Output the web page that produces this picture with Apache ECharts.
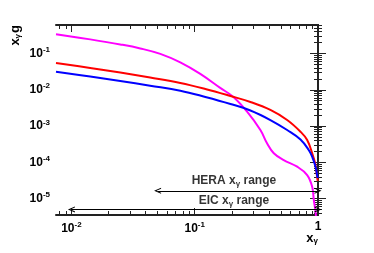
<!DOCTYPE html>
<html><head><meta charset="utf-8">
<script src="https://cdn.jsdelivr.net/npm/echarts@6/dist/echarts.min.js"></script>
<style>html,body{margin:0;padding:0;background:#fff}#c{width:374px;height:253px}</style>
</head><body><div id="c"></div>
<script>
// ---- data (real values; drawn on log10 axes) ----
const xRange = [0.0075, 1];
const yRange = [3.55e-6, 0.61];
const xMajor = [0.01, 0.1, 1];
const yMajor = [1e-5, 1e-4, 1e-3, 1e-2, 1e-1];

const magentaX = [0.0075, 0.0142, 0.0249, 0.0362, 0.0526, 0.0764, 0.111, 0.161, 0.206, 0.266, 0.341, 0.386, 0.438, 0.527, 0.678, 0.817, 0.897, 0.925, 0.955, 0.977];
const magentaY = [0.340, 0.245, 0.178, 0.138, 0.0975, 0.0569, 0.0274, 0.01125, 0.00635, 0.00249, 7.8e-4, 3.36e-4, 1.78e-4, 1.16e-4, 7.6e-5, 4.48e-5, 2.13e-5, 9.1e-6, 4.36e-6, 1.6e-6];

const redX = [0.0075, 0.0142, 0.0249, 0.0435, 0.0764, 0.122, 0.195, 0.283, 0.411, 0.562, 0.721, 0.817, 0.897, 0.946, 0.982, 0.994];
const redY = [0.0547, 0.0401, 0.0299, 0.0218, 0.01545, 0.01055, 0.00676, 0.00462, 0.00278, 0.00147, 7.0e-4, 4.14e-4, 1.78e-4, 9.6e-5, 4.2e-5, 3.1e-5];

const blueX = [0.0075, 0.0142, 0.0249, 0.0435, 0.0764, 0.122, 0.195, 0.283, 0.411, 0.562, 0.721, 0.841, 0.902, 0.955, 0.982, 0.994];
const blueY = [0.0315, 0.0232, 0.01754, 0.01294, 0.00942, 0.00635, 0.00407, 0.00269, 0.00147, 7.8e-4, 4.27e-4, 2.19e-4, 1.36e-4, 7.6e-5, 4.6e-5, 3.7e-5];

const heraRange = [0.05, 1], heraArrowY = 1.65e-5;
const eicRange = [0.01, 1], eicArrowY = 5.07e-6;
const heraTextPos = [0.208, 3.06e-5];
const eicTextPos = [0.208, 8.75e-6];

// ---- build ----
const L = Math.log10;
function minorTicks(lo, hi) {
  const out = [];
  for (let n = Math.floor(L(lo)) - 1; n <= Math.ceil(L(hi)); n++)
    for (let k = 2; k <= 9; k++) { const v = k * Math.pow(10, n); if (v > lo && v < hi) out.push(L(v)); }
  return out;
}
const font = 'Liberation Sans, Arial, Helvetica, sans-serif';
const supRich = {
  b: { fontSize: 12, fontFamily: font, color: '#000', fontWeight: 'bold' },
  s: { fontSize: 8, fontFamily: font, color: '#000', fontWeight: 'bold', padding: [0, 0, 7, 0] },
  sub: { fontSize: 8, fontFamily: font, color: '#000', fontWeight: 'bold', padding: [6, 0, 0, 0] }
};
function logLabel(v) {
  const e = Math.round(v);
  return e === 0 ? '{b|1}' : '{b|10}{s|' + e + '}';
}
const lineCol = '#222';
function xAx(pos, major, showLabel) {
  return {
    type: 'value', position: pos, min: L(xRange[0]), max: L(xRange[1]),
    axisLine: { show: major, lineStyle: { color: lineCol, width: 2 } },
    splitLine: { show: false },
    axisTick: { show: true, inside: true, length: major ? 7 : 4, lineStyle: { color: lineCol, width: 1 },
      customValues: major ? xMajor.map(L) : minorTicks(xRange[0], xRange[1]) },
    axisLabel: { show: showLabel, customValues: xMajor.map(L), formatter: logLabel, rich: supRich, margin: 6 }
  };
}
function yAx(pos, major, showLabel) {
  return {
    type: 'value', position: pos, min: L(yRange[0]), max: L(yRange[1]),
    axisLine: { show: major, lineStyle: { color: lineCol, width: 2 } },
    splitLine: { show: false },
    axisTick: { show: true, inside: true, length: major ? 8 : 4, lineStyle: { color: lineCol, width: 1 },
      customValues: major ? yMajor.map(L) : minorTicks(yRange[0], yRange[1]) },
    axisLabel: { show: showLabel, customValues: yMajor.map(L), formatter: logLabel, rich: supRich, margin: 6 }
  };
}
function pts(xs, ys) { return xs.map((x, i) => [L(x), L(ys[i])]); }
function curve(xs, ys, color) {
  return { type: 'line', data: pts(xs, ys), showSymbol: false, smooth: 0.4, clip: true,
    lineStyle: { color: color, width: 2 }, silent: true, animation: false };
}
const chev = 'path://M0,10 L5,0 L10,10 L8.3,10 L5,3.4 L1.7,10 Z';
const arrowLine = (r, y) => [{ coord: [L(r[0]), L(y)] }, { coord: [L(r[1]), L(y)] }];

const option = {
  animation: false,
  backgroundColor: '#fff',
  grid: { left: 56, top: 25, right: 56, bottom: 38, containLabel: false },
  xAxis: [xAx('bottom', true, true), xAx('bottom', false, false), xAx('top', true, false), xAx('top', false, false)],
  yAxis: [yAx('left', true, true), yAx('left', false, false), yAx('right', true, false), yAx('right', false, false)],
  series: [
    curve(magentaX, magentaY, '#ff00ff'),
    curve(redX, redY, '#ff0000'),
    curve(blueX, blueY, '#0000ff'),
    { type: 'line', data: [], clip: false, silent: true,
      markLine: { silent: true, symbol: [chev, chev], symbolSize: [6, 7],
        lineStyle: { color: '#000', width: 1, type: 'solid' }, label: { show: false },
        data: [arrowLine(heraRange, heraArrowY), arrowLine(eicRange, eicArrowY)] } },
    { type: 'scatter', symbolSize: 0, silent: true, clip: false,
      data: [pts([heraTextPos[0]], [heraTextPos[1]])[0], pts([eicTextPos[0]], [eicTextPos[1]])[0]],
      label: { show: true, position: 'inside', rich: {
          t: { fontSize: 12, fontFamily: font, fontWeight: 'bold', color: '#000' },
          sub: supRich.sub },
        formatter: p => p.dataIndex === 0 ? '{t|HERA x}{sub|γ}{t| range}' : '{t|EIC x}{sub|γ}{t| range}' } }
  ],
  graphic: [
    { type: 'text', x: 15, y: 25, rotation: Math.PI / 2,
      style: { text: '{t|x}{sub|γ}{t|g}', align: 'right', verticalAlign: 'middle',
        rich: { t: { fontSize: 13, fontFamily: font, fontWeight: 'bold', fill: '#000' }, sub: { fontSize: 8, fontFamily: font, fontWeight: 'bold', fill: '#000', padding: [6, 1, 0, 0] } } } },
    { type: 'text', x: 318, y: 238,
      style: { text: '{t|x}{sub|γ}', align: 'right', verticalAlign: 'middle',
        rich: { t: { fontSize: 13, fontFamily: font, fontWeight: 'bold', fill: '#000' }, sub: { fontSize: 8, fontFamily: font, fontWeight: 'bold', fill: '#000', padding: [6, 0, 0, 0] } } } }
  ]
};
const chart = echarts.init(document.getElementById('c'), null, { renderer: 'canvas' });
chart.setOption(option);
</script></body></html>
